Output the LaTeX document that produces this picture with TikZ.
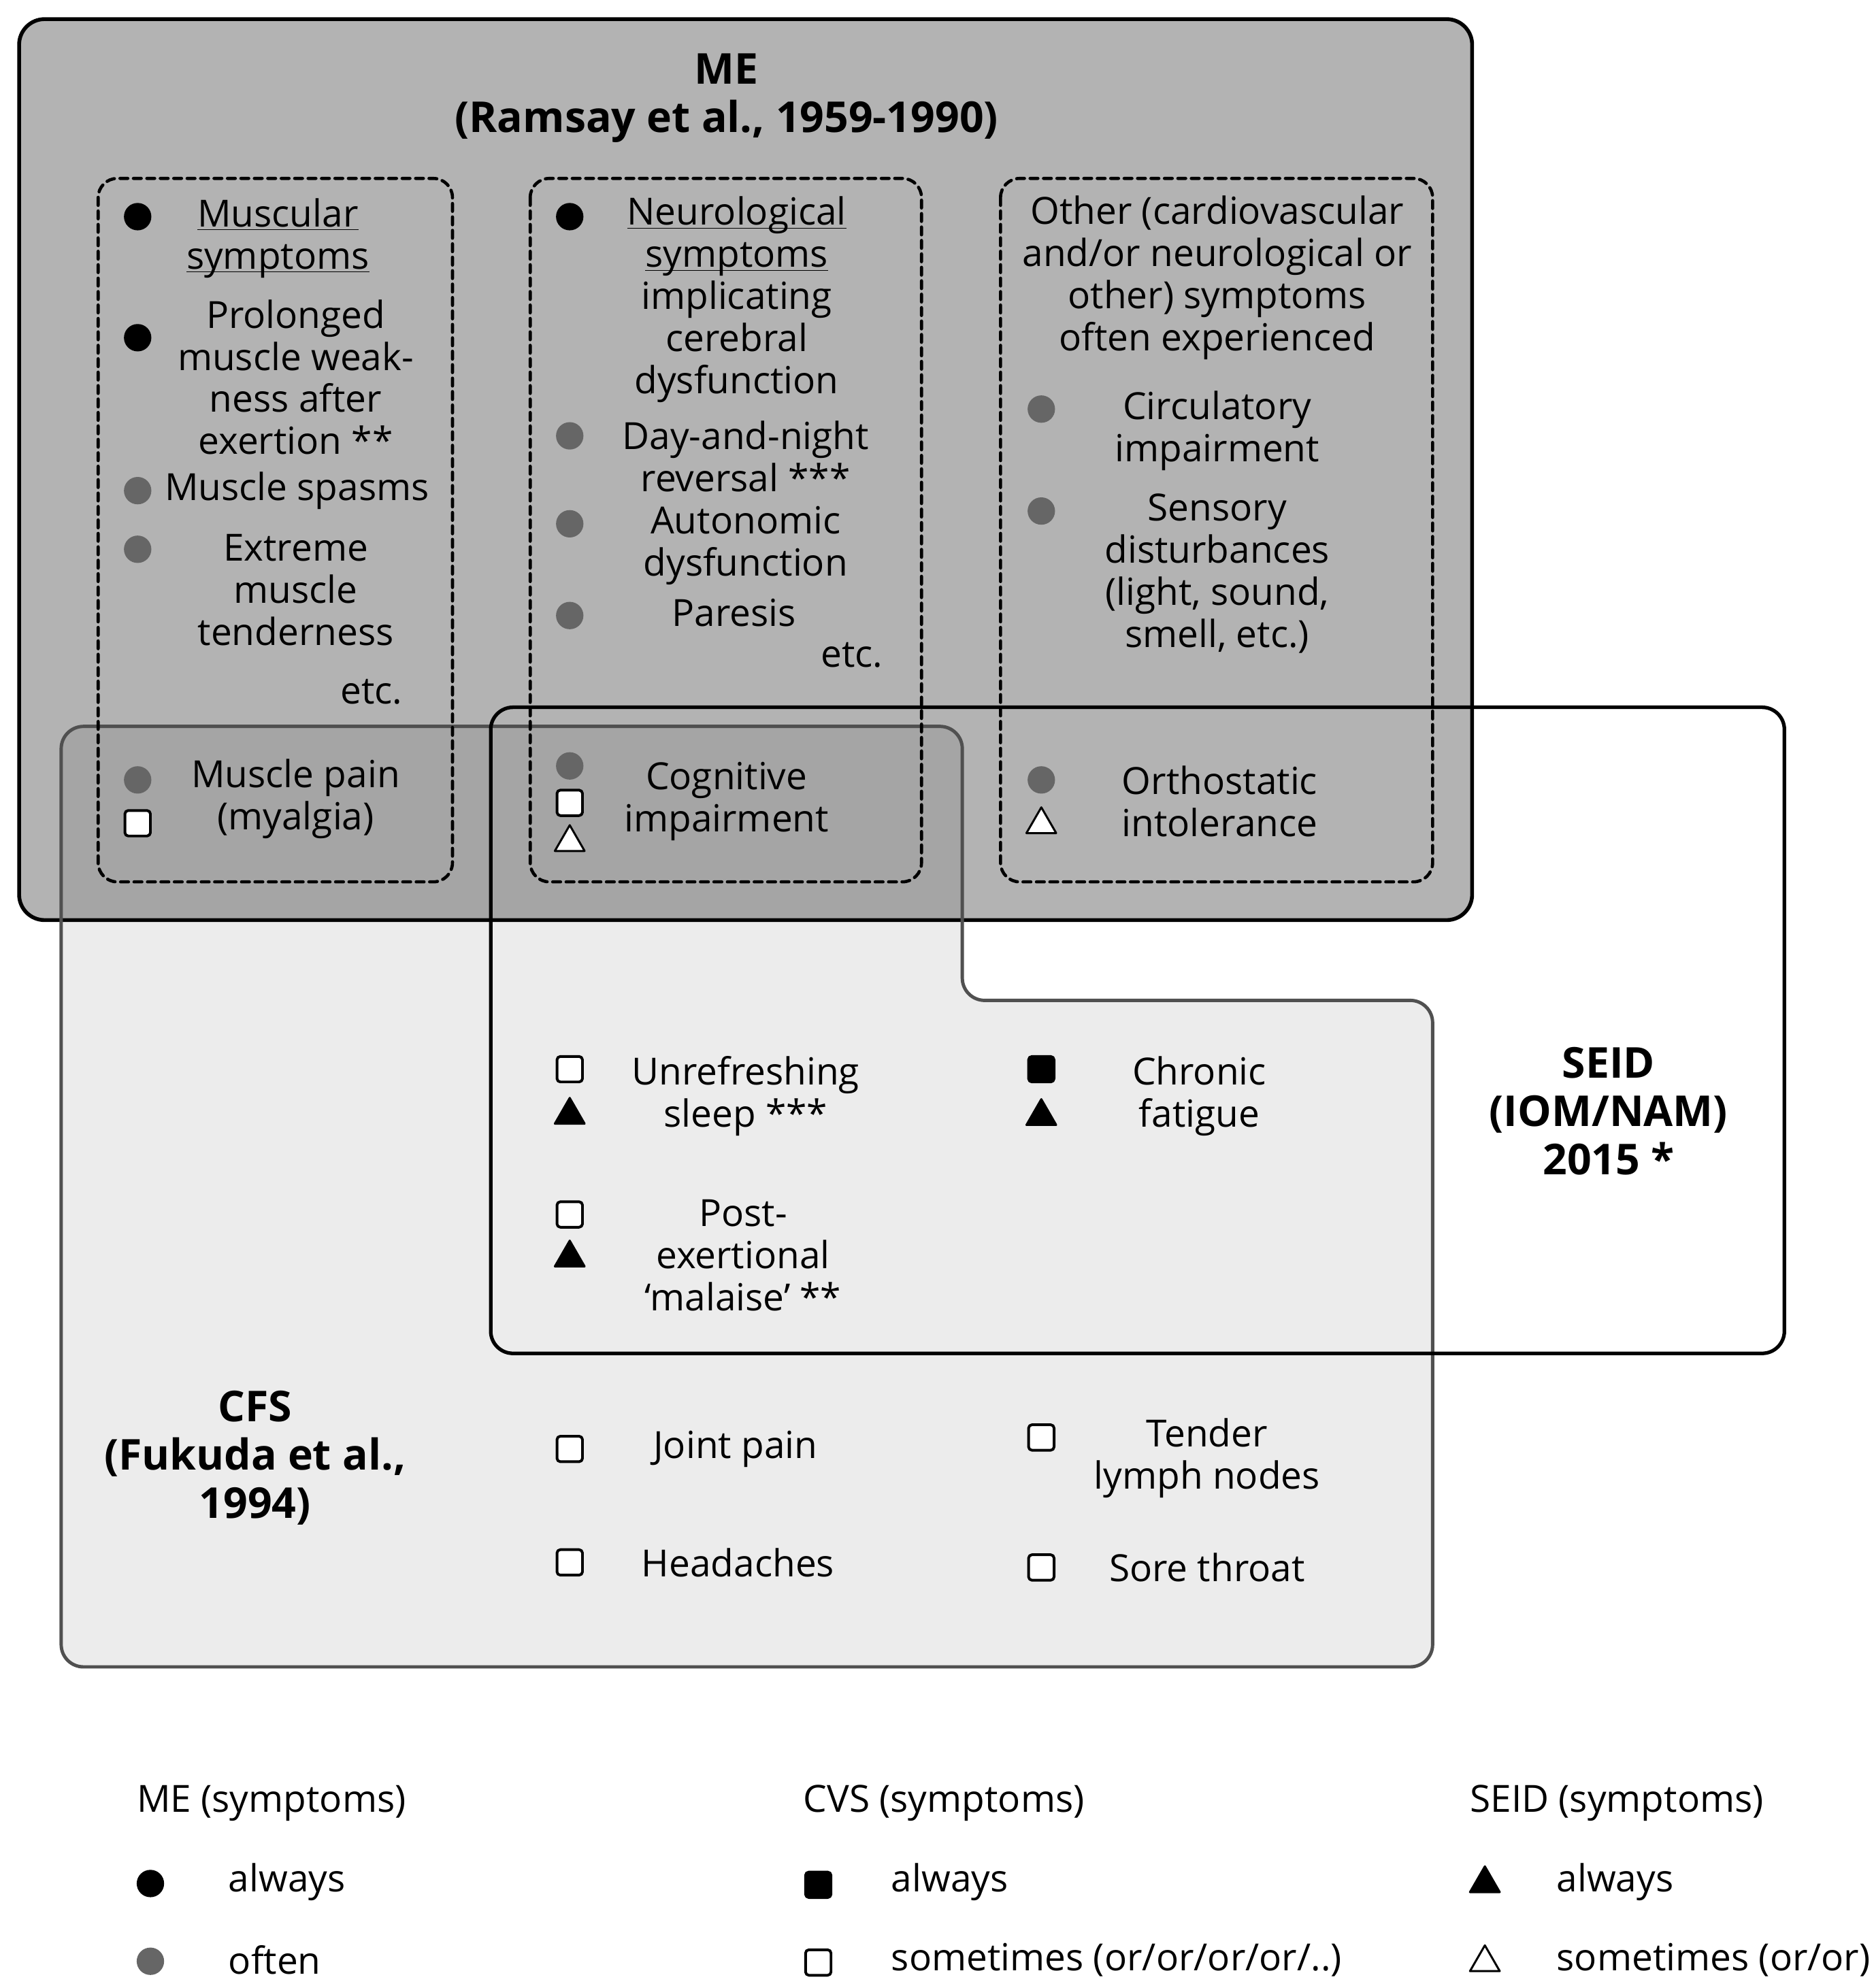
\documentclass[tikz,border=0pt]{standalone}
\usepackage{fontspec}
\setmainfont{Open Sans}
\usetikzlibrary{shapes.geometric}
\definecolor{megray}{HTML}{B3B3B3}
\definecolor{dotgray}{HTML}{666666}
\definecolor{cfsline}{HTML}{505050}
\newcommand{\undl}[1]{\underline{\raisebox{0pt}[\height][0pt]{#1}}}
\tikzset{
  txt/.style={align=center,inner sep=0pt,font=\fontsize{16.7}{18.8}\selectfont},
  hd/.style={align=center,inner sep=0pt,font=\fontsize{19}{21.5}\selectfont\bfseries},
  alw/.style={circle,fill=black,inner sep=0pt,minimum size=0.43cm},
  oft/.style={circle,fill=dotgray,inner sep=0pt,minimum size=0.43cm},
  cvsall/.style={rectangle,rounded corners=1.5pt,fill=black,draw=black,line width=1.2pt,inner sep=0pt,minimum size=0.4cm},
  cvssome/.style={cvsall,fill=white},
  seidall/.style={regular polygon,regular polygon sides=3,fill=black,draw=black,line width=0.9pt,inner sep=0pt,minimum size=0.54cm},
  seidsome/.style={seidall,fill=white},
  symgroup/.style={line width=1.4pt,dash pattern=on 3.5pt off 2.5pt,rounded corners=0.3cm}
}
\begin{document}
\begin{tikzpicture}[x=0.02cm,y=-0.02cm,line cap=round,line join=round]
  \useasboundingbox (0,0) rectangle (1470,1560);
  % ME
  \draw[fill=megray,line width=1.7pt,rounded corners=0.4cm] (15,15) rectangle (1155,722);
  % CFS
  \draw[fill=black,fill opacity=0.075,draw=cfsline,line width=1.5pt,rounded corners=0.35cm]
    (48,570) -- (755,570) -- (755,785) -- (1124,785) -- (1124,1308) -- (48,1308) -- cycle;
  \draw[symgroup] (77,140) rectangle (355,692);
  \draw[symgroup] (416,140) rectangle (723,692);
  \draw[symgroup] (785,140) rectangle (1124,692);
  % SEID
  \draw[line width=1.6pt,rounded corners=0.35cm] (385,555) rectangle (1400,1062);

  \node[hd] (me) at (570,77) {ME\\(Ramsay et al., 1959-1990)};

  \node[alw] (m1) at (108,170) {};
  \node[txt] (mus) at (218,185) {\undl{Muscular}\\\undl{symptoms}};
  \node[alw] (m2) at (108,265) {};
  \node[txt] (weak) at (232,296) {Prolonged\\muscle weak-\\ness after\\exertion **};
  \node[oft] (m3) at (108,385) {};
  \node[txt] (spasm) at (233,385) {Muscle spasms};
  \node[oft] (m4) at (108,431) {};
  \node[txt] (tend) at (232,463) {Extreme\\muscle\\tenderness};
  \node[txt,anchor=east] (etc1) at (316,543) {etc.};
  \node[oft] (m5) at (108,612) {};
  \node[cvssome] (m6) at (108,646) {};
  \node[txt] (pain) at (232,627) {Muscle pain\\(myalgia)};

  \node[alw] (n1) at (447,170) {};
  \node[txt] (neuro) at (578,235) {\undl{Neurological}\\\undl{symptoms}\\implicating\\cerebral\\dysfunction};
  \node[oft] (n2) at (447,342) {};
  \node[txt] (dayn) at (585,358) {Day-and-night\\reversal ***};
  \node[oft] (n3) at (447,411) {};
  \node[txt] (auto) at (585,428) {Autonomic\\dysfunction};
  \node[oft] (n4) at (447,483) {};
  \node[txt] (par) at (576,481) {Paresis};
  \node[txt,anchor=east] (etc2) at (693,514) {etc.};
  \node[oft] (n5) at (447,601) {};
  \node[cvssome] (n6) at (447,630) {};
  \node[seidsome] (n7) at (447,661) {};
  \node[txt] (cogn) at (570,629) {Cognitive\\impairment};

  \node[txt] (other) at (955,218) {Other (cardiovascular\\and/or neurological or\\other) symptoms\\often experienced};
  \node[oft] (o1) at (817,321) {};
  \node[txt] (circ) at (955,338) {Circulatory\\impairment};
  \node[oft] (o2) at (817,401) {};
  \node[txt] (sens) at (955,450) {Sensory\\disturbances\\(light, sound,\\smell, etc.)};
  \node[oft] (o3) at (817,612) {};
  \node[seidsome] (o4) at (817,647) {};
  \node[txt] (orth) at (957,629) {Orthostatic\\intolerance};

  \node[cvssome] (s1) at (447,839) {};
  \node[seidall] (s2) at (447,875) {};
  \node[txt] (sleep) at (585,860) {Unrefreshing\\sleep ***};
  \node[cvssome] (s3) at (447,953) {};
  \node[seidall] (s4) at (447,987) {};
  \node[txt] (pem) at (583,985) {Post-\\exertional\\‘malaise’ **};
  \node[cvsall] (s5) at (817,839) {};
  \node[seidall] (s6) at (817,876) {};
  \node[txt] (fat) at (941,860) {Chronic\\fatigue};
  \node[hd] (seid) at (1262,872) {SEID\\(IOM/NAM)\\2015 *};

  \node[hd] (cfs) at (200,1144) {CFS\\(Fukuda et al.,\\1994)};
  \node[cvssome] (c1) at (447,1137) {};
  \node[txt] (joint) at (577,1137) {Joint pain};
  \node[cvssome] (c2) at (447,1226) {};
  \node[txt] (head) at (579,1226) {Headaches};
  \node[cvssome] (c3) at (817,1128) {};
  \node[txt] (lymph) at (947,1144) {Tender\\lymph nodes};
  \node[cvssome] (c4) at (817,1230) {};
  \node[txt] (sore) at (947,1230) {Sore throat};

  % legend
  \node[txt,anchor=west] (lgme) at (107,1415) {ME (symptoms)};
  \node[alw] (lm1) at (118,1478) {};
  \node[txt,anchor=west] (lm1t) at (179,1477) {always};
  \node[oft] (lm2) at (118,1539) {};
  \node[txt,anchor=west] (lm2t) at (179,1538) {often};
  \node[txt,anchor=west] (lgcvs) at (630,1415) {CVS (symptoms)};
  \node[cvsall] (lc1) at (642,1479) {};
  \node[txt,anchor=west] (lc1t) at (699,1477) {always};
  \node[cvssome] (lc2) at (642,1540) {};
  \node[txt,anchor=west] (lc2t) at (699,1538) {sometimes (or/or/or/or/..)};
  \node[txt,anchor=west] (lgseid) at (1153,1415) {SEID (symptoms)};
  \node[seidall] (ls1) at (1165,1478) {};
  \node[txt,anchor=west] (ls1t) at (1221,1477) {always};
  \node[seidsome] (ls2) at (1165,1540) {};
  \node[txt,anchor=west] (ls2t) at (1221,1538) {sometimes (or/or)};
\end{tikzpicture}
\end{document}
